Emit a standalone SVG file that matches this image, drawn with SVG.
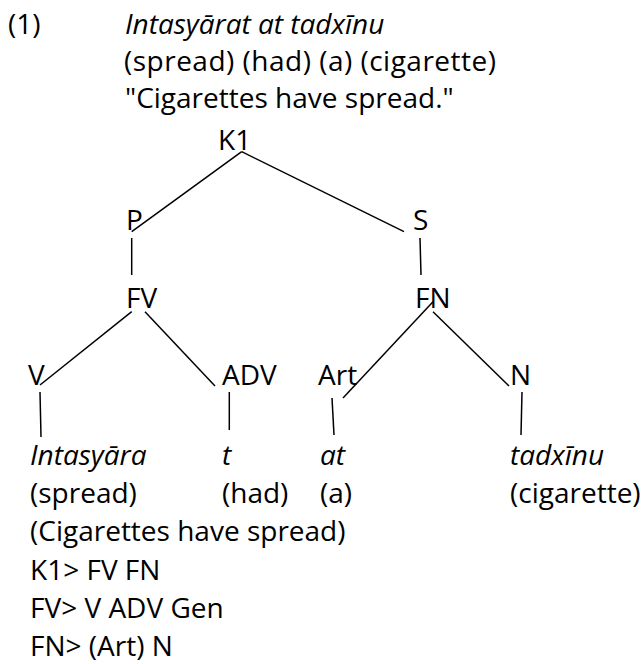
<svg xmlns="http://www.w3.org/2000/svg" width="644" height="664" viewBox="0 0 644 664">
<style>
text{font-family:"Open Sans","Noto Sans","DejaVu Sans",sans-serif;font-size:28px;fill:#000}
.i{font-style:italic}
.c line{stroke:#000;stroke-width:1.5;fill:none}
</style>
<rect width="644" height="664" fill="#fff"/>
<g id="header">
<text x="8" y="34">(1)</text>
<text class="i" x="125" y="34">Intasyārat at tadxīnu</text>
<text x="124" y="71" textLength="372" lengthAdjust="spacing">(spread) (had) (a) (cigarette)</text>
<text x="125" y="108">"Cigarettes have spread."</text>
</g>
<g class="c" id="connectors">
<line x1="241.7" y1="151.7" x2="131.7" y2="231.7"/>
<line x1="241.7" y1="151.7" x2="404" y2="231.7"/>
<line x1="131.7" y1="238" x2="131.7" y2="275"/>
<line x1="420" y1="238" x2="421" y2="275"/>
<line x1="131.7" y1="311.7" x2="40" y2="385"/>
<line x1="145" y1="311.7" x2="215" y2="386"/>
<line x1="433" y1="301.7" x2="343" y2="398"/>
<line x1="433" y1="311.7" x2="509" y2="386"/>
<line x1="40" y1="392" x2="41" y2="437"/>
<line x1="229.3" y1="392" x2="229.3" y2="430"/>
<line x1="332" y1="398" x2="334" y2="435"/>
<line x1="522" y1="392" x2="521" y2="435"/>
</g>
<g id="K1"><text x="218" y="150">K1</text></g>
<g id="P"><text x="126" y="230">P</text></g>
<g id="S"><text x="413" y="230">S</text></g>
<g id="FV"><text x="126" y="308">FV</text></g>
<g id="FN"><text x="415" y="308">FN</text></g>
<g id="V"><text x="28" y="385">V</text></g>
<g id="ADV"><text x="222" y="385">ADV</text></g>
<g id="Art"><text x="318" y="385">Art</text></g>
<g id="N"><text x="510" y="385">N</text></g>
<g id="w1"><text class="i" x="30" y="465">Intasyāra</text><text x="30" y="503">(spread)</text></g>
<g id="w2"><text class="i" x="222" y="465">t</text><text x="222" y="503">(had)</text></g>
<g id="w3"><text class="i" x="320" y="465">at</text><text x="320" y="503">(a)</text></g>
<g id="w4"><text class="i" x="510" y="465">tadxīnu</text><text x="510" y="503">(cigarette)</text></g>
<g id="footer">
<text x="30" y="541">(Cigarettes have spread)</text>
<text x="30" y="580">K1&gt; FV FN</text>
<text x="30" y="618">FV&gt; V ADV Gen</text>
<text x="30" y="656">FN&gt; (Art) N</text>
</g>
</svg>
